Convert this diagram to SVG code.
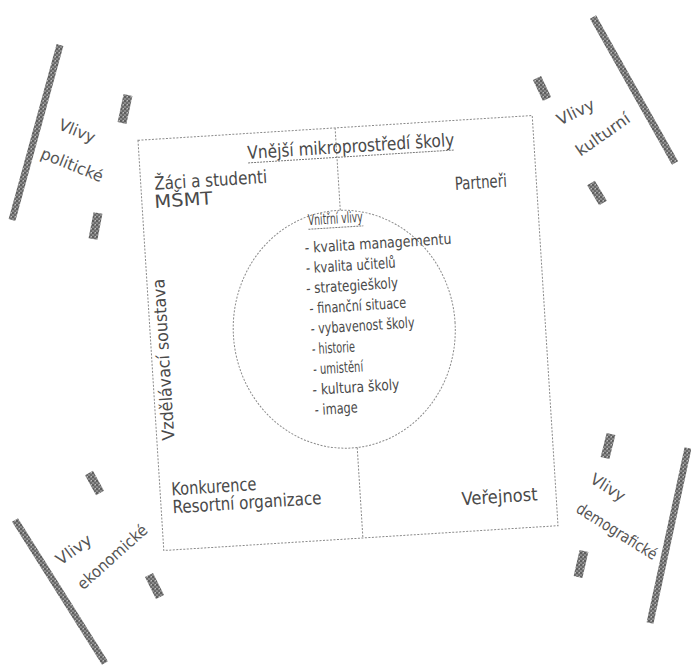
<svg xmlns="http://www.w3.org/2000/svg" width="691" height="668" viewBox="0 0 691 668">
<defs>
<pattern id="grain" width="4" height="4" patternUnits="userSpaceOnUse">
<rect width="4" height="4" fill="#8c8c8c"/>
<rect width="2" height="2" fill="#5e5e5e"/>
<rect x="2" y="2" width="2" height="2" fill="#6a6a6a"/>
<rect x="3" y="0" width="1" height="1" fill="#bdbdbd"/>
</pattern>
<style>
.edge{fill:none;stroke:#8a8a8a;stroke-width:1;stroke-dasharray:2 1.5}
.t{font-family:"DejaVu Sans Condensed","DejaVu Sans","Liberation Sans",sans-serif;font-stretch:condensed;fill:#4a4a4a}
.lab{font-size:18px}
.item{font-size:15px}
.ul{stroke:#7a7a7a;stroke-width:1;stroke-dasharray:2 1}
.bar{stroke:url(#grain);stroke-width:7;stroke-linecap:butt}
.sbar{stroke:url(#grain);stroke-width:9;stroke-linecap:butt}
.ft{font-family:"DejaVu Sans Condensed","DejaVu Sans",sans-serif;font-stretch:condensed;font-size:16px;fill:#555}
</style>
</defs>
<rect width="691" height="668" fill="#ffffff"/>

<g id="main" transform="rotate(-3.6 348 333)">
<g id="connectors">
<rect class="edge" x="150.5" y="127.5" width="395" height="411"/>
<line class="edge" x1="348" y1="127.5" x2="348" y2="210"/>
<line class="edge" x1="350" y1="448" x2="350" y2="538.5"/>
</g>
<g id="outer">
<text class="t lab" x="259" y="153" textLength="207" lengthAdjust="spacingAndGlyphs">Vnější mikroprostředí školy</text>
<line class="ul" x1="259" y1="157" x2="466" y2="157"/>
<text class="t lab" x="164" y="178" textLength="113" lengthAdjust="spacingAndGlyphs">Žáci a studenti</text>
<text class="t lab" x="163" y="196" textLength="58" lengthAdjust="spacingAndGlyphs">MŠMT</text>
<text class="t lab" x="464" y="197" textLength="52" lengthAdjust="spacingAndGlyphs">Partneři</text>
<text class="t" font-size="17" transform="translate(168 429) rotate(-90)" textLength="162" lengthAdjust="spacingAndGlyphs">Vzdělávací soustava</text>
<text class="t lab" x="162" y="484" textLength="85" lengthAdjust="spacingAndGlyphs">Konkurence</text>
<text class="t lab" x="162" y="502" textLength="149" lengthAdjust="spacingAndGlyphs">Resortní organizace</text>
<text class="t lab" x="451" y="512" textLength="76" lengthAdjust="spacingAndGlyphs">Veřejnost</text>
</g>
<g id="inner">
<ellipse class="edge" cx="344.5" cy="329" rx="111" ry="119"/>
<text class="t" font-size="15" x="315" y="223" textLength="55" lengthAdjust="spacingAndGlyphs">Vnitřní vlivy</text>
<line class="ul" x1="315" y1="227" x2="370" y2="227"/>
<text class="t item" x="310" y="250.5" textLength="147" lengthAdjust="spacingAndGlyphs">- kvalita managementu</text>
<text class="t item" x="310" y="270.8" textLength="90" lengthAdjust="spacingAndGlyphs">- kvalita učitelů</text>
<text class="t item" x="309" y="291.1" textLength="92" lengthAdjust="spacingAndGlyphs">- strategieškoly</text>
<text class="t item" x="311" y="311.4" textLength="97" lengthAdjust="spacingAndGlyphs">- finanční situace</text>
<text class="t item" x="311" y="331.7" textLength="104" lengthAdjust="spacingAndGlyphs">- vybavenost školy</text>
<text class="t item" x="311" y="352" textLength="43" lengthAdjust="spacingAndGlyphs">- historie</text>
<text class="t item" x="311" y="372.3" textLength="50" lengthAdjust="spacingAndGlyphs">- umistění</text>
<text class="t item" x="309" y="392.6" textLength="87" lengthAdjust="spacingAndGlyphs">- kultura školy</text>
<text class="t item" x="310" y="412.9" textLength="43" lengthAdjust="spacingAndGlyphs">- image</text>
</g>
</g>

<g id="flag-politicke">
<line class="bar" x1="60" y1="45" x2="12" y2="220"/>
<line class="sbar" x1="128" y1="95" x2="122" y2="123"/>
<line class="sbar" x1="98" y1="213" x2="93" y2="239"/>
<text class="ft" text-anchor="middle" transform="translate(75 136) rotate(22)" textLength="38" lengthAdjust="spacingAndGlyphs">Vlivy</text>
<text class="ft" text-anchor="middle" transform="translate(70 170) rotate(22)" textLength="66" lengthAdjust="spacingAndGlyphs">politické</text>
</g>

<g id="flag-kulturni">
<line class="bar" x1="593" y1="17" x2="675" y2="163"/>
<line class="sbar" x1="537" y1="78" x2="547" y2="99"/>
<line class="sbar" x1="591" y1="183" x2="603" y2="203"/>
<text class="ft" text-anchor="middle" transform="translate(578 117) rotate(-26)" textLength="40" lengthAdjust="spacingAndGlyphs">Vlivy</text>
<text class="ft" text-anchor="middle" transform="translate(606 139) rotate(-35)" textLength="62" lengthAdjust="spacingAndGlyphs">kulturní</text>
</g>

<g id="flag-ekonomicke">
<line class="bar" x1="15" y1="520" x2="105" y2="663"/>
<line class="sbar" x1="89" y1="473" x2="100" y2="493"/>
<line class="sbar" x1="149" y1="575" x2="160" y2="597"/>
<text class="ft" text-anchor="middle" transform="translate(77 554) rotate(-36)" textLength="40" lengthAdjust="spacingAndGlyphs">Vlivy</text>
<text class="ft" text-anchor="middle" transform="translate(116 561) rotate(-42)" textLength="88" lengthAdjust="spacingAndGlyphs">ekonomické</text>
</g>

<g id="flag-demograficke">
<line class="bar" x1="688" y1="448" x2="650" y2="623"/>
<line class="sbar" x1="611" y1="434" x2="605" y2="458"/>
<line class="sbar" x1="584" y1="551" x2="578" y2="577"/>
<text class="ft" text-anchor="middle" transform="translate(605 492) rotate(32)" textLength="38" lengthAdjust="spacingAndGlyphs">Vlivy</text>
<text class="ft" text-anchor="middle" transform="translate(614 536) rotate(32)" textLength="92" lengthAdjust="spacingAndGlyphs">demografické</text>
</g>
</svg>
